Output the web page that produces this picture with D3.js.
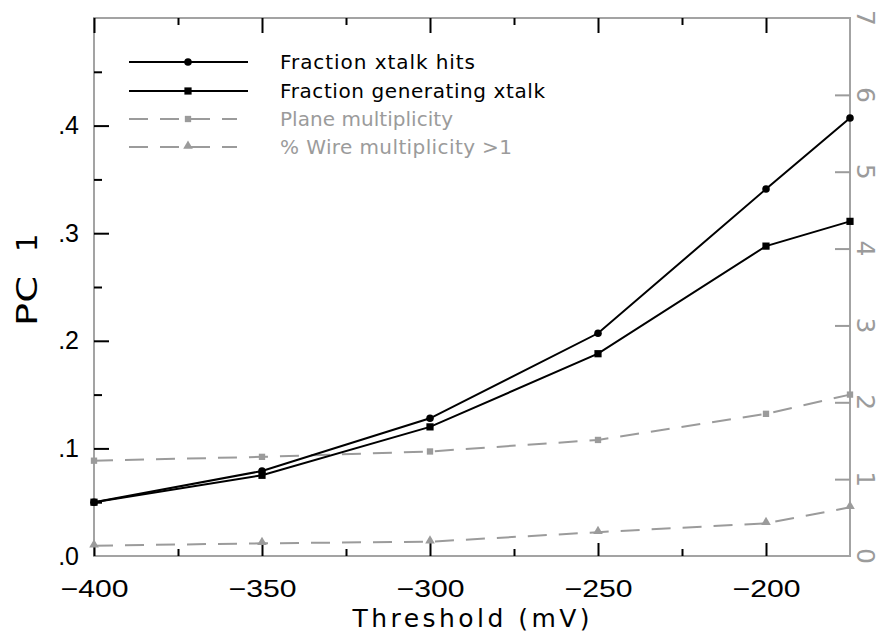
<!DOCTYPE html>
<html>
<head>
<meta charset="utf-8">
<script src="https://cdn.jsdelivr.net/npm/d3@7"></script>
<style>
  html, body { margin: 0; padding: 0; background: #fff; }
  svg { display: block; font-family: "DejaVu Sans", sans-serif; }
</style>
</head>
<body>
<svg id="chart" width="880" height="638"></svg>
<script>
// ---- data ----
const thresholds = [-400, -350, -300, -250, -200, -175];
const xtalkHits  = [0.050, 0.079, 0.128, 0.207, 0.341, 0.407];
const genXtalk   = [0.050, 0.075, 0.120, 0.188, 0.288, 0.311];
const planeMult  = [1.24, 1.29, 1.36, 1.51, 1.85, 2.10];
const wireMult   = [0.134, 0.165, 0.186, 0.31, 0.425, 0.634];

const xMajor = [-400, -350, -300, -250, -200];
const xMinor = [-375, -325, -275, -225];
const yLMajor = [0, 0.1, 0.2, 0.3, 0.4];
const yLMinor = [0.05, 0.15, 0.25, 0.35, 0.45];
const yRMajor = [0, 1, 2, 3, 4, 5, 6, 7];

const legendLabels = ["Fraction xtalk hits", "Fraction generating xtalk", "Plane multiplicity", "% Wire multiplicity >1"];

// ---- layout ----
const L = 94, R = 850, T = 18, B = 556;
const GRAY = "#9b9b9b", FRAME = "#a3a3a3";

const x = d3.scaleLinear().domain([-400, -175]).range([L, R]);
const yL = d3.scaleLinear().domain([0, 0.5]).range([B, T]);
const yR = d3.scaleLinear().domain([0, 7]).range([B, T]);

const svg = d3.select("#chart");

// frame
svg.append("rect").attr("x", L).attr("y", T).attr("width", R - L).attr("height", B - T)
  .attr("fill", "none").attr("stroke", FRAME).attr("stroke-width", 2);

// bottom axis
const gB = svg.append("g").attr("transform", `translate(0,${B})`)
  .call(d3.axisBottom(x).tickValues(xMajor).tickSize(-13).tickPadding(24)
    .tickFormat(d => "\u2212" + Math.abs(d)));
gB.select(".domain").remove();
gB.selectAll(".tick line").attr("stroke", "#000").attr("stroke-width", 2);
gB.selectAll(".tick text").attr("font-size", 24).attr("fill", "#000")
  .attr("textLength", 68).attr("lengthAdjust", "spacingAndGlyphs");
svg.append("g").attr("transform", `translate(0,${B})`)
  .call(d3.axisBottom(x).tickValues(xMinor).tickSize(-7).tickFormat(""))
  .call(g => g.select(".domain").remove())
  .selectAll(".tick line").attr("stroke", "#000").attr("stroke-width", 2);

// top axis
svg.append("g").attr("transform", `translate(0,${T})`)
  .call(d3.axisTop(x).tickValues(xMajor).tickSize(-15).tickFormat(""))
  .call(g => g.select(".domain").remove())
  .selectAll(".tick line").attr("stroke", "#000").attr("stroke-width", 2);
svg.append("g").attr("transform", `translate(0,${T})`)
  .call(d3.axisTop(x).tickValues(xMinor).tickSize(-7).tickFormat(""))
  .call(g => g.select(".domain").remove())
  .selectAll(".tick line").attr("stroke", "#000").attr("stroke-width", 2);

// left axis
const gL = svg.append("g").attr("transform", `translate(${L},0)`)
  .call(d3.axisLeft(yL).tickValues(yLMajor).tickSize(-15).tickPadding(15)
    .tickFormat(d => d3.format(".1f")(d).replace(/^0/, "")));
gL.select(".domain").remove();
gL.selectAll(".tick line").attr("stroke", "#000").attr("stroke-width", 2)
  .filter(d => d === 0).remove();
gL.selectAll(".tick text").attr("font-size", 25).attr("fill", "#000");
svg.append("g").attr("transform", `translate(${L},0)`)
  .call(d3.axisLeft(yL).tickValues(yLMinor).tickSize(-8).tickFormat(""))
  .call(g => g.select(".domain").remove())
  .selectAll(".tick line").attr("stroke", "#000").attr("stroke-width", 2);

// right axis (gray, rotated labels)
const gR = svg.append("g").attr("transform", `translate(${R},0)`)
  .call(d3.axisRight(yR).tickValues(yRMajor).tickSize(-15).tickFormat(""));
gR.select(".domain").remove();
gR.selectAll(".tick line").attr("stroke", GRAY).attr("stroke-width", 2)
  .filter(d => d === 0 || d === 7).remove();
svg.append("g").selectAll("text").data(yRMajor).join("text")
  .attr("transform", d => `translate(866,${yR(d)}) rotate(90)`)
  .attr("text-anchor", "middle").attr("dy", "0.36em")
  .attr("font-size", 25).attr("fill", GRAY)
  .text(d => d);

// axis titles
svg.append("text").attr("x", 471).attr("y", 627).attr("text-anchor", "middle")
  .attr("font-size", 25).attr("textLength", 237).attr("lengthAdjust", "spacing")
  .text("Threshold (mV)");
const yt = svg.append("text").attr("transform", "translate(37,326) rotate(-90)")
  .attr("font-size", 29);
yt.append("tspan").attr("x", 0).attr("textLength", 50).attr("lengthAdjust", "spacingAndGlyphs").text("PC");
yt.append("tspan").attr("x", 74).text("1");

// series
const lineL = vals => d3.line().x((d, i) => x(thresholds[i])).y(d => yL(d))(vals);
const lineR = vals => d3.line().x((d, i) => x(thresholds[i])).y(d => yR(d))(vals);
const DASH = "19,12";

const plot = svg.append("g");
plot.append("path").attr("d", lineR(planeMult)).attr("fill", "none")
  .attr("stroke", GRAY).attr("stroke-width", 2).attr("stroke-dasharray", DASH);
plot.append("path").attr("d", lineR(wireMult)).attr("fill", "none")
  .attr("stroke", GRAY).attr("stroke-width", 2).attr("stroke-dasharray", DASH);
plot.append("path").attr("d", lineL(xtalkHits)).attr("fill", "none")
  .attr("stroke", "#000").attr("stroke-width", 2);
plot.append("path").attr("d", lineL(genXtalk)).attr("fill", "none")
  .attr("stroke", "#000").attr("stroke-width", 2);

const circ = d3.symbol().type(d3.symbolCircle).size(45);
const sq = d3.symbol().type(d3.symbolSquare).size(52);
const sqG = d3.symbol().type(d3.symbolSquare).size(40);
const tri = d3.symbol().type(d3.symbolTriangle).size(40);

plot.selectAll(".pm").data(planeMult).join("path")
  .attr("transform", (d, i) => `translate(${x(thresholds[i])},${yR(d)})`)
  .attr("d", sqG).attr("fill", GRAY);
plot.selectAll(".wm").data(wireMult).join("path")
  .attr("transform", (d, i) => `translate(${x(thresholds[i])},${yR(d) - 1})`)
  .attr("d", tri).attr("fill", GRAY);
plot.selectAll(".gx").data(genXtalk).join("path")
  .attr("transform", (d, i) => `translate(${x(thresholds[i])},${yL(d)})`)
  .attr("d", sq).attr("fill", "#000");
plot.selectAll(".xh").data(xtalkHits).join("path")
  .attr("transform", (d, i) => `translate(${x(thresholds[i])},${yL(d)})`)
  .attr("d", circ).attr("fill", "#000");

// legend
const legY = [62, 91, 119, 147];
const legW = [195, 265, 173, 232];
const legStyle = [
  {color: "#000", dash: null, sym: circ, x2: 248},
  {color: "#000", dash: null, sym: sq, x2: 248},
  {color: GRAY, dash: DASH, sym: sqG, x2: 237},
  {color: GRAY, dash: DASH, sym: tri, x2: 237}
];
const leg = svg.append("g");
legendLabels.forEach((lab, i) => {
  const s = legStyle[i];
  leg.append("line").attr("x1", 129).attr("x2", s.x2).attr("y1", legY[i]).attr("y2", legY[i])
    .attr("stroke", s.color).attr("stroke-width", 2)
    .attr("stroke-dasharray", s.dash);
  leg.append("path").attr("transform", `translate(188,${legY[i] - (i === 3 ? 1 : 0)})`)
    .attr("d", s.sym).attr("fill", s.color);
  leg.append("text").attr("x", 280).attr("y", legY[i]).attr("dy", "0.36em")
    .attr("font-size", 20).attr("fill", s.color)
    .attr("textLength", legW[i]).attr("lengthAdjust", "spacing")
    .text(lab);
});
</script>
</body>
</html>
